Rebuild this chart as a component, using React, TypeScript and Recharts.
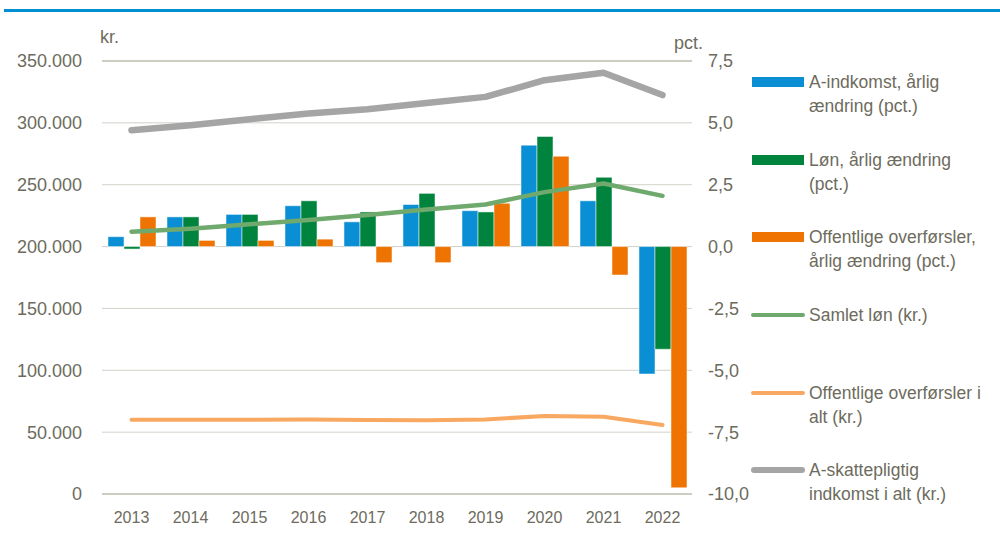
import { ComposedChart, Bar, Line, XAxis, YAxis, CartesianGrid, ReferenceLine } from "recharts";

const years = ["2013", "2014", "2015", "2016", "2017", "2018", "2019", "2020", "2021", "2022"];

// annual change, pct. (right axis)
const aIndkomstPct = [0.4, 1.2, 1.3, 1.65, 1.0, 1.7, 1.45, 4.1, 1.85, -5.15];
const lonPct = [-0.1, 1.2, 1.3, 1.85, 1.4, 2.15, 1.4, 4.45, 2.8, -4.15];
const overforslerPct = [1.2, 0.25, 0.25, 0.3, -0.65, -0.65, 1.75, 3.65, -1.15, -9.75];

// levels, kr. (left axis)
const samletLon = [212000, 214500, 218000, 221500, 225500, 230000, 234000, 244000, 251000, 241000];
const overforslerKr = [60000, 60000, 60000, 60200, 59800, 59600, 60300, 63000, 62500, 55800];
const aSkatKr = [294000, 298000, 303000, 307500, 311000, 316000, 321000, 334500, 340500, 322500];

const krTicks = [0, 50000, 100000, 150000, 200000, 250000, 300000, 350000];
const pctTicks = [-10, -7.5, -5, -2.5, 0, 2.5, 5, 7.5];

const data = years.map((year, i) => ({
  year,
  aIndkomstPct: aIndkomstPct[i],
  lonPct: lonPct[i],
  overforslerPct: overforslerPct[i],
  samletLon: samletLon[i],
  overforslerKr: overforslerKr[i],
  aSkatKr: aSkatKr[i],
}));

const FONT = "'Liberation Sans Narrow', 'Arial Narrow', 'Liberation Sans', Arial, sans-serif";
const TEXT = "#6d6b5d";

const BLUE = "#0a8fd5";
const DARK_GREEN = "#00843d";
const ORANGE = "#ef7300";
const LIGHT_GREEN = "#6fa96d";
const LIGHT_ORANGE = "#f9a861";
const GREY = "#a5a5a5";

const legendItems = [
  { label: "A-indkomst, årlig\nændring (pct.)", color: BLUE, kind: "bar", width: 10 },
  { label: "Løn, årlig ændring\n(pct.)", color: DARK_GREEN, kind: "bar", width: 10 },
  { label: "Offentlige overførsler,\nårlig ændring (pct.)", color: ORANGE, kind: "bar", width: 10 },
  { label: "Samlet løn (kr.)", color: LIGHT_GREEN, kind: "line", width: 4 },
  { label: "Offentlige overførsler i\nalt (kr.)", color: LIGHT_ORANGE, kind: "line", width: 4 },
  { label: "A-skattepligtig\nindkomst i alt (kr.)", color: GREY, kind: "line", width: 6 },
];

const fmtKr = (v: number) => String(v).replace(/\B(?=(\d{3})+(?!\d))/g, ".");
const fmtPct = (v: number) => v.toFixed(1).replace(".", ",");

export default function App() {
  return (
    <div
      style={{
        position: "absolute",
        left: 0,
        top: 0,
        width: 1000,
        height: 542,
        background: "#fff",
        fontFamily: FONT,
        overflow: "hidden",
      }}
    >
      {/* blue rule under the (cropped) title */}
      <div style={{ position: "absolute", left: 4, top: 9, width: 996, height: 3, background: "#0090d3" }} />

      <div style={{ position: "absolute", left: 100, top: 27, fontSize: 18, color: TEXT }}>kr.</div>
      <div style={{ position: "absolute", left: 674, top: 33, fontSize: 18, color: TEXT }}>pct.</div>

      <ComposedChart
        width={1000}
        height={542}
        data={data}
        margin={{ top: 61, right: 248, bottom: 0, left: 0 }}
        barGap={0}
        barSize={16}
      >
        <CartesianGrid yAxisId="left" vertical={false} stroke="#d2d1c8" />
        <XAxis
          dataKey="year"
          height={48}
          axisLine={false}
          tickLine={false}
          tickSize={0}
          tickMargin={18}
          tick={{ fontSize: 16, fill: TEXT, fontFamily: FONT }}
        />
        <YAxis
          yAxisId="left"
          width={102}
          domain={[0, 350000]}
          ticks={krTicks}
          tickFormatter={fmtKr}
          axisLine={false}
          tickLine={false}
          tickSize={0}
          tickMargin={20}
          tick={{ fontSize: 18, fill: TEXT, fontFamily: FONT }}
        />
        <YAxis
          yAxisId="right"
          orientation="right"
          width={60}
          domain={[-10, 7.5]}
          ticks={pctTicks}
          tickFormatter={fmtPct}
          axisLine={false}
          tickLine={false}
          tickSize={0}
          tickMargin={16}
          tick={{ fontSize: 18, fill: TEXT, fontFamily: FONT, textAnchor: "start" }}
        />
        <ReferenceLine yAxisId="left" y={350000} stroke="#b3b1a2" />
        <ReferenceLine yAxisId="left" y={0} stroke="#b3b1a2" />

        <Bar yAxisId="right" dataKey="aIndkomstPct" fill={BLUE} stroke="#fff" strokeWidth={0.7} strokeOpacity={0.7} isAnimationActive={false} />
        <Bar yAxisId="right" dataKey="lonPct" fill={DARK_GREEN} stroke="#fff" strokeWidth={0.7} strokeOpacity={0.7} isAnimationActive={false} />
        <Bar yAxisId="right" dataKey="overforslerPct" fill={ORANGE} stroke="#fff" strokeWidth={0.7} strokeOpacity={0.7} isAnimationActive={false} />

        <Line yAxisId="left" type="linear" dataKey="overforslerKr" stroke={LIGHT_ORANGE} strokeWidth={4} strokeLinecap="round" strokeLinejoin="round" dot={false} activeDot={false} isAnimationActive={false} />
        <Line yAxisId="left" type="linear" dataKey="samletLon" stroke={LIGHT_GREEN} strokeWidth={4.5} strokeLinecap="round" strokeLinejoin="round" dot={false} activeDot={false} isAnimationActive={false} />
        <Line yAxisId="left" type="linear" dataKey="aSkatKr" stroke={GREY} strokeWidth={6.5} strokeLinecap="round" strokeLinejoin="round" dot={false} activeDot={false} isAnimationActive={false} />
      </ComposedChart>

      <div style={{ position: "absolute", left: 751, top: 70 }}>
        {legendItems.map((item) => (
          <div key={item.label} style={{ position: "relative", height: 77.7 }}>
            <div
              style={{
                position: "absolute",
                left: item.kind === "bar" ? 1 : 0,
                top: 12 - item.width / 2,
                width: item.kind === "bar" ? 52 : 54,
                height: item.width,
                background: item.color,
                borderRadius: item.kind === "bar" ? 0 : item.width / 2,
              }}
            />
            <div
              style={{
                position: "absolute",
                left: 58,
                top: 0,
                fontSize: 17.5,
                lineHeight: "24px",
                color: TEXT,
                whiteSpace: "pre",
              }}
            >
              {item.label}
            </div>
          </div>
        ))}
      </div>
    </div>
  );
}
